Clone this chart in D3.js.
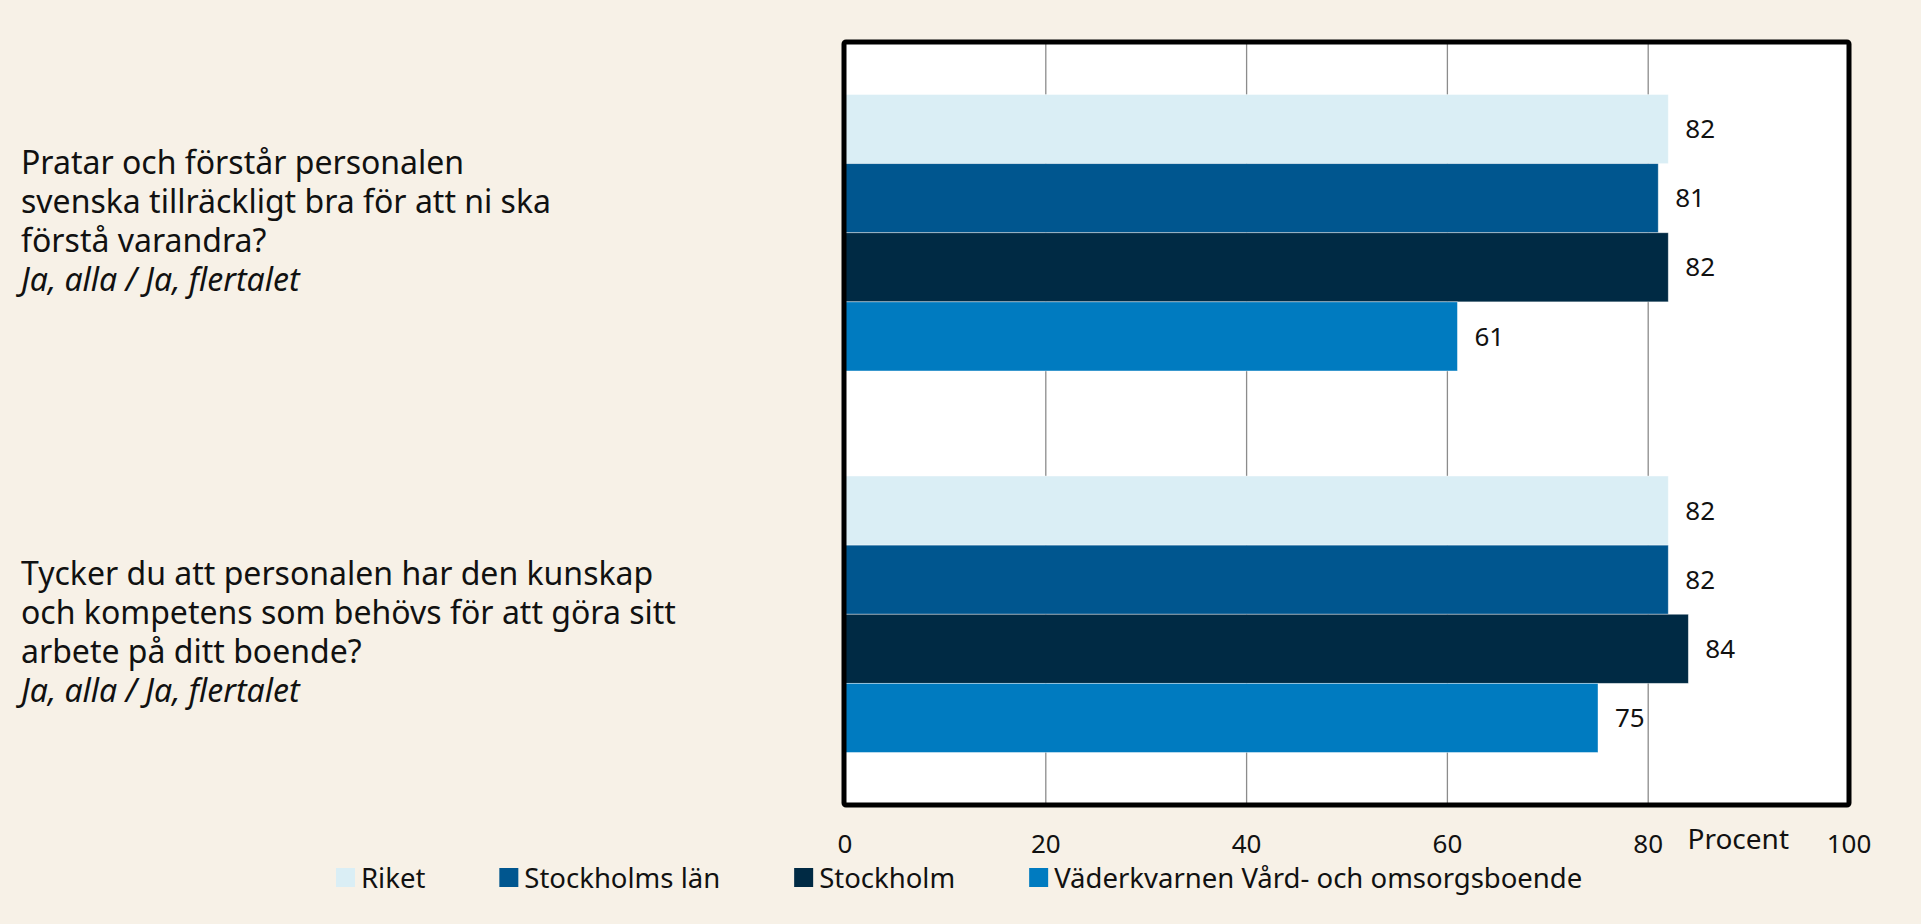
<!doctype html>
<html lang="sv">
<head>
    <meta charset="utf-8"/>
    <title>Personalens språk och kompetens</title>
    <script src="https://d3js.org/d3.v7.min.js"></script>
    <style>
        body {
            margin: 0;
            padding: 0;
            background: #f7f1e7;
        }
        svg text {
            font-family: 'Noto Sans', 'Open Sans', sans-serif;
            fill: #111;
        }
    </style>
</head>
<body>
<script>
    // frågorna (varje rad för sig) och svarsalternativ
    const questionLines = [
        ["Pratar och förstår personalen", "svenska tillräckligt bra för att ni ska", "förstå varandra?"],
        ["Tycker du att personalen har den kunskap", "och kompetens som behövs för att göra sitt", "arbete på ditt boende?"]
    ]
    const answerText = ["Ja, alla / Ja, flertalet", "Ja, alla / Ja, flertalet"]
    const questions = ["q1", "q2"]

    // serierna
    const seriesNames = ["Riket", "Stockholms län", "Stockholm", "Väderkvarnen Vård- och omsorgsboende"]
    const seriesColors = ["#daeef5", "#00568f", "#002a44", "#007bc0"]

    // värden i procent, en per fråga
    const riket = [82, 82]
    const stockholmsLan = [81, 82]
    const stockholm = [82, 84]
    const vaderkvarnen = [61, 75]
    const allValues = [riket, stockholmsLan, stockholm, vaderkvarnen]

    const xTicks = [0, 20, 40, 60, 80, 100]

    const width = 1921
    const height = 924

    const svg = d3.select("body")
        .append("svg")
        .attr("width", width)
        .attr("height", height)

    // bakgrund
    svg.append("rect")
        .attr("width", width)
        .attr("height", height)
        .attr("fill", "#f7f1e7")

    const plot = {left: 844, right: 1849, top: 42, bottom: 805}

    const x = d3.scaleLinear()
        .domain([0, 100])
        .range([plot.left + 1, plot.right])

    const y0 = d3.scaleBand()
        .domain(questions)
        .range([plot.top, plot.bottom])

    const y1 = d3.scaleBand()
        .domain(seriesNames)
        .range([0, y0.bandwidth()])
        .paddingOuter(0.76)

    // vit plotyta
    svg.append("rect")
        .attr("x", plot.left)
        .attr("y", plot.top)
        .attr("width", plot.right - plot.left)
        .attr("height", plot.bottom - plot.top)
        .attr("fill", "#ffffff")

    // stödlinjer
    svg.append("g")
        .selectAll("line")
        .data(xTicks.slice(1, -1))
        .join("line")
        .attr("x1", d => x(d))
        .attr("x2", d => x(d))
        .attr("y1", plot.top)
        .attr("y2", plot.bottom)
        .attr("stroke", "#8c8c8c")
        .attr("stroke-width", 1.3)

    // staplarna
    const rows = []
    questions.forEach(function (q, qi) {
        seriesNames.forEach(function (s, si) {
            rows.push({q: q, s: s, color: seriesColors[si], value: allValues[si][qi]})
        })
    })

    svg.append("g")
        .selectAll("rect")
        .data(rows)
        .join("rect")
        .attr("x", x(0))
        .attr("y", d => y0(d.q) + y1(d.s))
        .attr("width", d => x(d.value) - x(0))
        .attr("height", y1.bandwidth())
        .attr("fill", d => d.color)
        .attr("stroke", "#ffffff")
        .attr("stroke-opacity", 0.5)
        .attr("stroke-width", 0.8)

    // värdeetiketter
    svg.append("g")
        .selectAll("text")
        .data(rows)
        .join("text")
        .attr("x", d => x(d.value) + 17)
        .attr("y", d => y0(d.q) + y1(d.s) + y1.bandwidth() / 2)
        .attr("dy", "0.35em")
        .style("font-size", "26px")
        .text(d => d.value)

    // ram runt plotytan
    svg.append("rect")
        .attr("x", plot.left)
        .attr("y", plot.top)
        .attr("width", plot.right - plot.left)
        .attr("height", plot.bottom - plot.top)
        .attr("rx", 2)
        .attr("fill", "none")
        .attr("stroke", "#000")
        .attr("stroke-width", 5)

    // x-axelns etiketter
    svg.append("g")
        .selectAll("text")
        .data(xTicks)
        .join("text")
        .attr("x", d => x(d))
        .attr("y", 844)
        .attr("dy", "0.35em")
        .attr("text-anchor", "middle")
        .style("font-size", "26px")
        .text(d => d)

    svg.append("text")
        .attr("x", x(100) - 60)
        .attr("y", 839)
        .attr("dy", "0.35em")
        .attr("text-anchor", "end")
        .style("font-size", "28px")
        .text("Procent")

    // frågetexterna till vänster, en text per rad
    const lineHeight = 39
    const nudge = [-11, 18]
    questions.forEach(function (q, qi) {
        const lines = questionLines[qi].concat([answerText[qi]])
        const mid = y0(q) + y0.bandwidth() / 2 + nudge[qi]
        const startY = mid - (lines.length - 1) * lineHeight / 2
        svg.append("g")
            .selectAll("text")
            .data(lines)
            .join("text")
            .attr("x", 21)
            .attr("y", (d, li) => startY + li * lineHeight)
            .attr("dy", "0.35em")
            .style("font-size", "32px")
            .style("font-style", (d, li) => li === lines.length - 1 ? "italic" : "normal")
            .text(d => d)
    })

    // teckenförklaring
    const legend = svg.append("g")
    let lx = 336
    seriesNames.forEach(function (s, si) {
        legend.append("rect")
            .attr("x", lx)
            .attr("y", 868)
            .attr("width", 19)
            .attr("height", 19)
            .attr("fill", seriesColors[si])
        const label = legend.append("text")
            .attr("x", lx + 25)
            .attr("y", 878)
            .attr("dy", "0.35em")
            .style("font-size", "27.5px")
            .text(s)
        lx += 25 + label.node().getComputedTextLength() + 74
    })
</script>
</body>
</html>
